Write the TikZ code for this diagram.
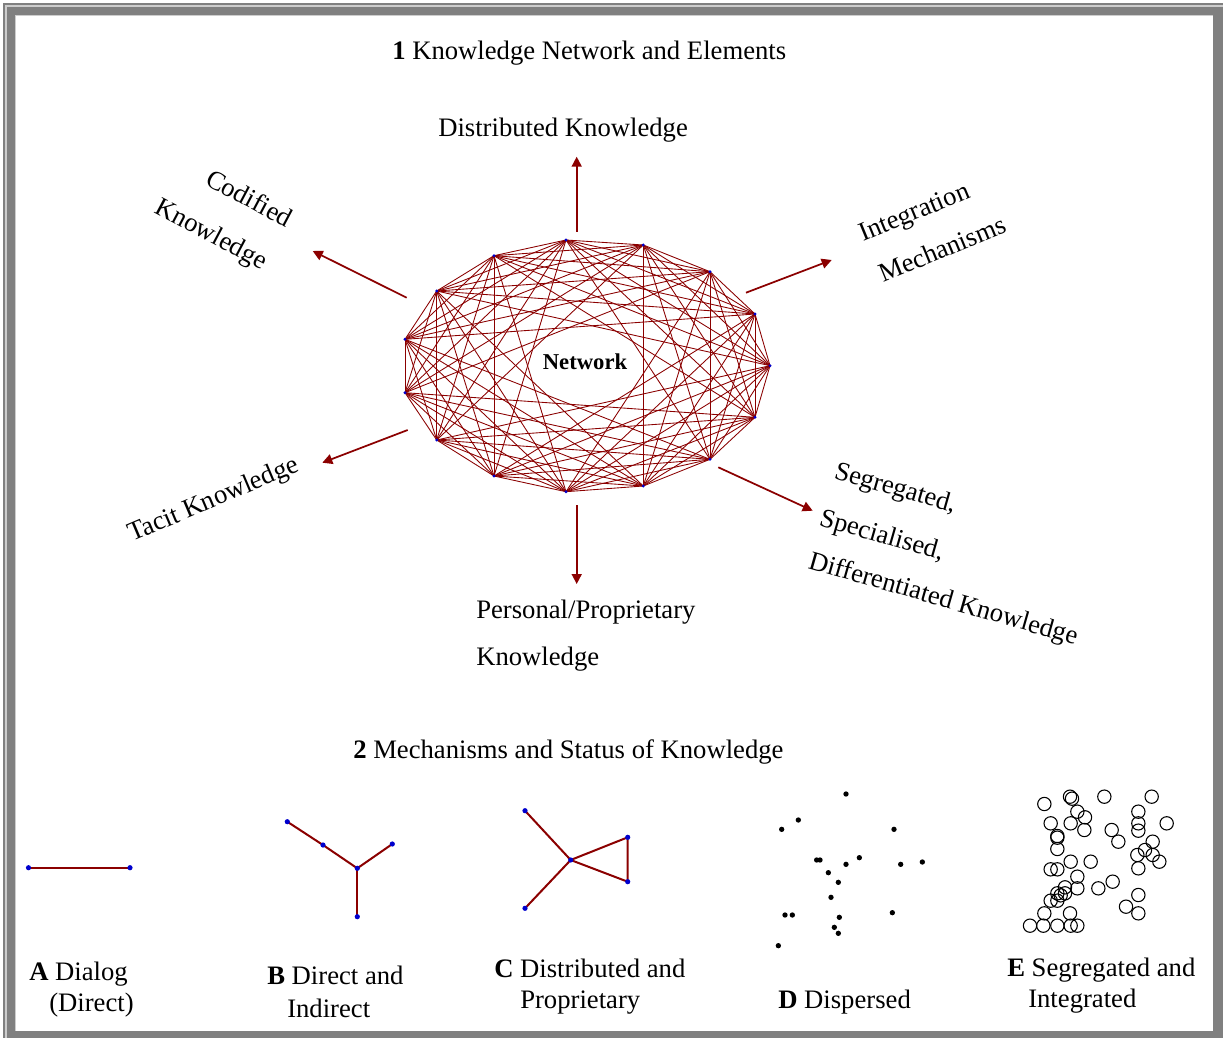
\documentclass[tikz,border=0pt]{standalone}
\usepackage{fontspec}
\setmainfont{Liberation Serif}
\usetikzlibrary{arrows.meta}
\definecolor{dred}{RGB}{139,0,0}
\definecolor{nblue}{RGB}{0,0,205}
\definecolor{framegray}{RGB}{128,128,128}
\definecolor{framelight}{RGB}{205,205,205}
\begin{document}
\begin{tikzpicture}[x=0.75pt,y=-0.75pt,
  lbl/.style={anchor=base west, inner sep=0pt, font=\fontsize{20}{24}\selectfont},
  netedge/.style={draw=dred, line width=0.65pt},
  arr/.style={draw=dred, line width=1.3pt, -{Triangle[length=7.5pt,width=7.5pt]}},
  gedge/.style={draw=dred, line width=1.5pt},
  bdot/.style={fill=nblue, draw=none},
  ddot/.style={fill=black, draw=none},
  ring/.style={draw=black, line width=0.8pt}]
\useasboundingbox (0,0) rectangle (1223,1038);
% frame
\fill[white] (0,0) rectangle (1223,1038);
\fill[framegray] (3,3) rectangle (1223,1038);
\fill[framelight] (5,5) rectangle (1223,7);
\fill[framelight] (5,5) rectangle (7,1038);
\fill[framegray] (7.3,7.3) rectangle (1223,1038);
\fill[framelight] (15,15) rectangle (1213,1031);
\fill[white] (16,16) rectangle (1213,1031);

% titles
\node[lbl] (t1) at (392,60) {\textbf{1} Knowledge Network and Elements};
\node[lbl] (t2) at (353,758) {\textbf{2} Mechanisms and Status of Knowledge};

% network vertices
\foreach \i/\x/\y in {0/566/240, 1/643.3/245, 2/710/271.7, 3/755/314, 4/770/365.7,
  5/755/417.3, 6/710/459.3, 7/643.3/486, 8/566/491.7, 9/494/476, 10/436.7/440,
  11/405/392.7, 12/405/339.3, 13/436.7/291, 14/494/255.7}
  \coordinate (n\i) at (\x,\y);
\foreach \i in {0,...,14}{
  \foreach \k in {1,...,6}{
    \pgfmathtruncatemacro\j{mod(\i+\k,15)}
    \draw[netedge] (n\i) -- (n\j);
  }
}
\foreach \i in {0,...,14} \fill[bdot] (n\i) circle (1.6);
\node[font=\fontsize{17}{20}\selectfont\bfseries, inner sep=1pt] (net) at (585,362) {Network};

% arrows
\coordinate (aUs) at (576.7,231.7); \coordinate (aUe) at (576.7,156.7);
\coordinate (aDs) at (576.7,505);   \coordinate (aDe) at (576.7,584);
\coordinate (aULs) at (406.7,297.7); \coordinate (aULe) at (312.7,251);
\coordinate (aURs) at (746,292.7);  \coordinate (aURe) at (831.7,260);
\coordinate (aLLs) at (407.7,430);  \coordinate (aLLe) at (322.3,462.7);
\coordinate (aLRs) at (718.3,467.3); \coordinate (aLRe) at (812.7,510.7);
\draw[arr] (aUs) -- (aUe);
\draw[arr] (aDs) -- (aDe);
\draw[arr] (aULs) -- (aULe);
\draw[arr] (aURs) -- (aURe);
\draw[arr] (aLLs) -- (aLLe);
\draw[arr] (aLRs) -- (aLRe);

% arrow labels
\node[lbl] (ldist) at (438,137) {Distributed Knowledge};
\node[lbl] (lpers1) at (476,618) {Personal/Proprietary};
\node[lbl] (lpers2) at (476,665) {Knowledge};
\node[lbl, rotate=-28] (lcod1) at (204,184) {Codified};
\node[lbl, rotate=-28] (lcod2) at (153,212) {Knowledge};
\node[lbl, rotate=22.5] (lint1) at (863,242) {Integration};
\node[lbl, rotate=22.5] (lint2) at (883,283) {Mechanisms};
\node[lbl, rotate=23] (ltac) at (132,542) {Tacit Knowledge};
\node[lbl, rotate=-16] (lseg1) at (833,478) {Segregated,};
\node[lbl, rotate=-16] (lseg2) at (818,525) {Specialised,};
\node[lbl, rotate=-16] (lseg3) at (807,568) {Differentiated Knowledge};

% A
\coordinate (a1) at (28.5,867.7); \coordinate (a2) at (130,867.7);
\draw[gedge] (a1) -- (a2);
\foreach \p in {a1,a2} \fill[bdot] (\p) circle (2.6);
\node[lbl] (la1) at (29,980) {\textbf{A} Dialog};
\node[lbl] (la2) at (49,1011) {(Direct)};

% B
\coordinate (b1) at (287.3,821.7); \coordinate (b2) at (323,845);
\coordinate (b3) at (357.3,868.3); \coordinate (b4) at (392.3,844);
\coordinate (b5) at (357.3,916.7);
\draw[gedge] (b1) -- (b2) -- (b3);
\draw[gedge] (b3) -- (b4);
\draw[gedge] (b3) -- (b5);
\foreach \p in {b1,b2,b3,b4,b5} \fill[bdot] (\p) circle (2.6);
\node[lbl] (lb1) at (267,984) {\textbf{B} Direct and};
\node[lbl] (lb2) at (287,1017) {Indirect};

% C
\coordinate (c1) at (525,810.7); \coordinate (c2) at (570.7,860);
\coordinate (c3) at (627.7,837.3); \coordinate (c4) at (627.7,881.7);
\coordinate (c5) at (525,908.3);
\draw[gedge] (c1) -- (c2);
\draw[gedge] (c5) -- (c2);
\draw[gedge] (c2) -- (c3) -- (c4) -- (c2);
\foreach \p in {c1,c2,c3,c4,c5} \fill[bdot] (\p) circle (2.6);
\node[lbl] (lc1) at (494,977) {\textbf{C} Distributed and};
\node[lbl] (lc2) at (520,1008) {Proprietary};

% D
\begin{scope}[shift={(480,780)}, x=0.25pt, y=-0.25pt]
\foreach \x/\y in {1098/42, 955/120, 905/148, 1242/148, 1010/240, 1020/240,
  1098/253, 1138/233, 1262/253, 1327/246, 1045/278, 1075/307, 1053/352,
  915/405, 937/405, 1078/412, 1237/398, 1063/442, 1075/460, 895/497}
  \fill[ddot] (\x,\y) circle (8);
\end{scope}
\node[lbl] (ld) at (778,1008) {\textbf{D} Dispersed};

% E
\begin{scope}[shift={(1000,780)}, x=0.25pt, y=-0.25pt]
\foreach \x/\y in {133/72, 210/50, 216/56, 313/50, 455/50, 232/95, 255/112, 415/95,
  152/130, 212/130, 253/150, 335/150, 415/130, 415/152, 500/130, 172/168, 172/173,
  355/185, 458/185, 435/210, 412/225, 458/225, 478/245, 172/207, 212/245, 272/245,
  152/268, 172/268, 415/265, 232/290, 232/325, 195/322, 295/325, 338/305, 172/340,
  182/346, 152/362, 172/362, 195/340, 415/345, 378/380, 415/400, 133/400, 210/400,
  90/437, 130/437, 172/437, 212/437, 232/437}
  \draw[ring] (\x,\y) circle (20);
\end{scope}
\node[lbl] (le1) at (1007,976) {\textbf{E} Segregated and};
\node[lbl] (le2) at (1028,1007) {Integrated};
\end{tikzpicture}
\end{document}
